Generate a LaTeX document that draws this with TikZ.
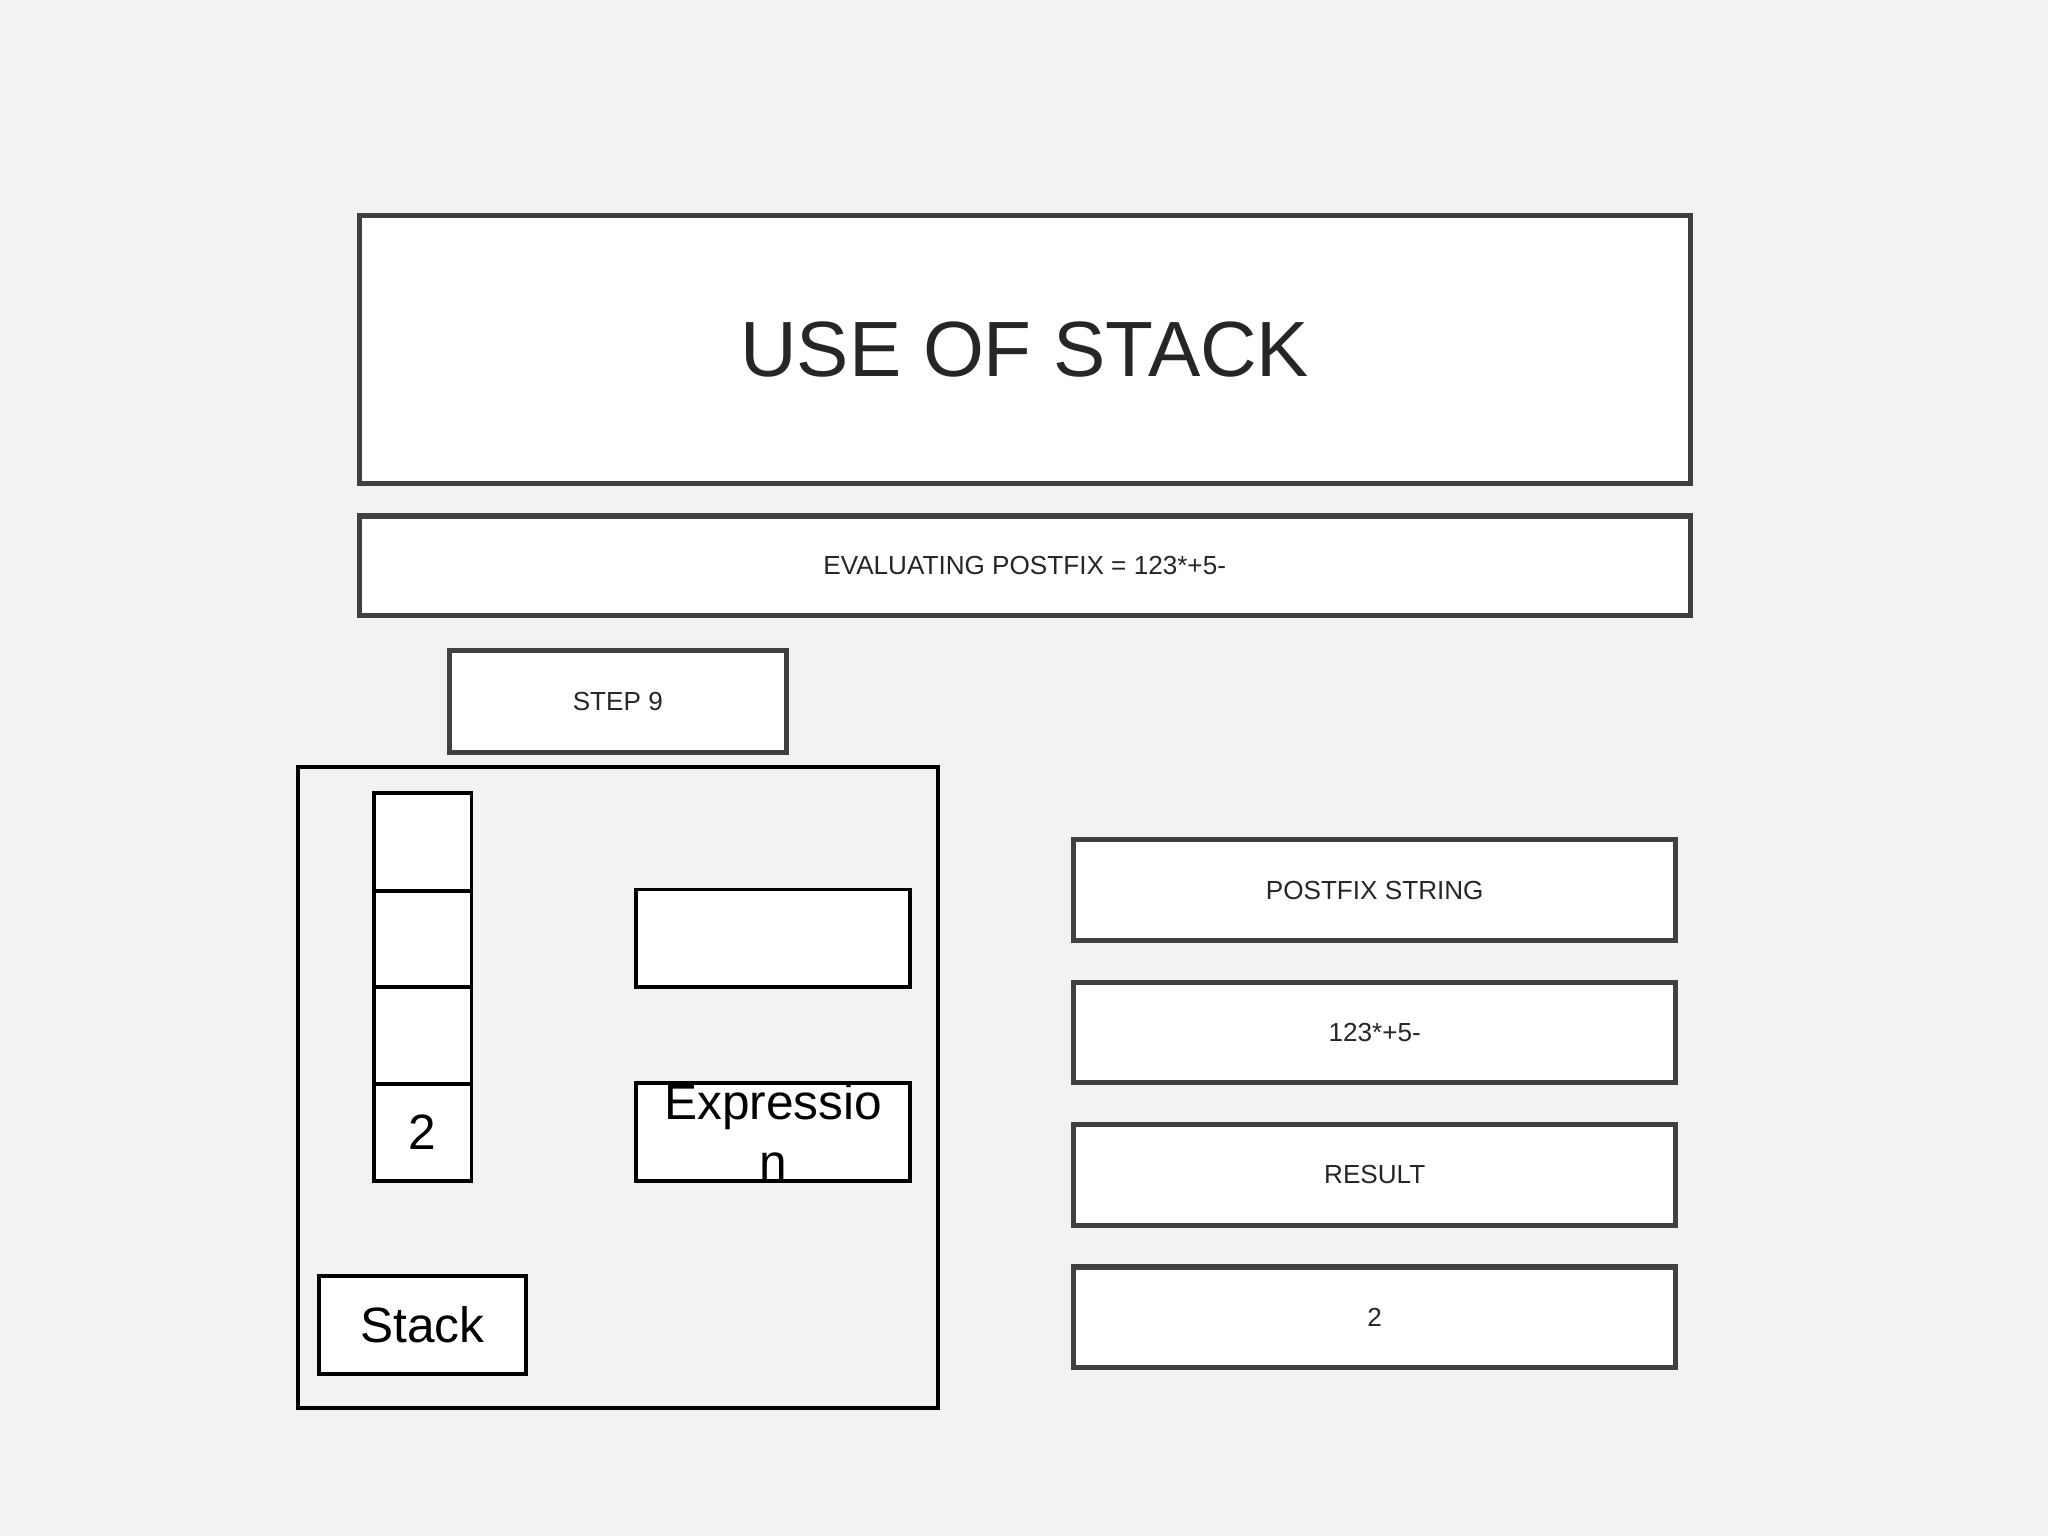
\documentclass[tikz,border=0pt]{standalone}
\usepackage{fontspec}
\setmainfont{Liberation Sans}
\begin{document}
\begin{tikzpicture}[x=0.5pt,y=-0.5pt,
  gbox/.style={draw=black!75,line width=2pt,fill=white},
  bbox/.style={draw=black,line width=1.5pt,fill=white},
  lbl/.style={text=black!85,font=\fontsize{10}{12}\selectfont}]
\fill[black!5] (0,0) rectangle (1568,1176);
\useasboundingbox (0,0) rectangle (1568,1176);
\draw[gbox] (275,165) rectangle (1294,370) node[midway,text=black!85,font=\fontsize{30}{36}\selectfont] (title) {USE OF STACK};
\draw[gbox] (275,395) rectangle (1294,471) node[midway,lbl] (sub) {EVALUATING POSTFIX = 123*+5-};
\draw[gbox] (344,498) rectangle (602,576) node[midway,lbl] (step) {STEP 9};
\draw[draw=black,line width=1.5pt] (228,587) rectangle (718,1078);
\draw[bbox] (286,607) rectangle (361,682);
\draw[bbox] (286,682) rectangle (361,756);
\draw[bbox] (286,756) rectangle (361,830);
\draw[bbox] (286,830) rectangle (361,904) node[midway,font=\fontsize{19}{22}\selectfont] (s2) {2};
\draw[bbox] (487,681) rectangle (697,756);
\draw[bbox] (487,829) rectangle (697,904);
\node[font=\fontsize{19}{23}\selectfont,align=center] (expr) at (592,866) {Expressio\\n};
\draw[bbox] (244,977) rectangle (403,1052) node[midway,font=\fontsize{19}{22}\selectfont] (stk) {Stack};
\draw[gbox] (822,643) rectangle (1283,720) node[midway,lbl] (r1) {POSTFIX STRING};
\draw[gbox] (822,752) rectangle (1283,829) node[midway,lbl] (r2) {123*+5-};
\draw[gbox] (822,861) rectangle (1283,938) node[midway,lbl] (r3) {RESULT};
\draw[gbox] (822,970) rectangle (1283,1047) node[midway,lbl] (r4) {2};
\end{tikzpicture}
\end{document}
